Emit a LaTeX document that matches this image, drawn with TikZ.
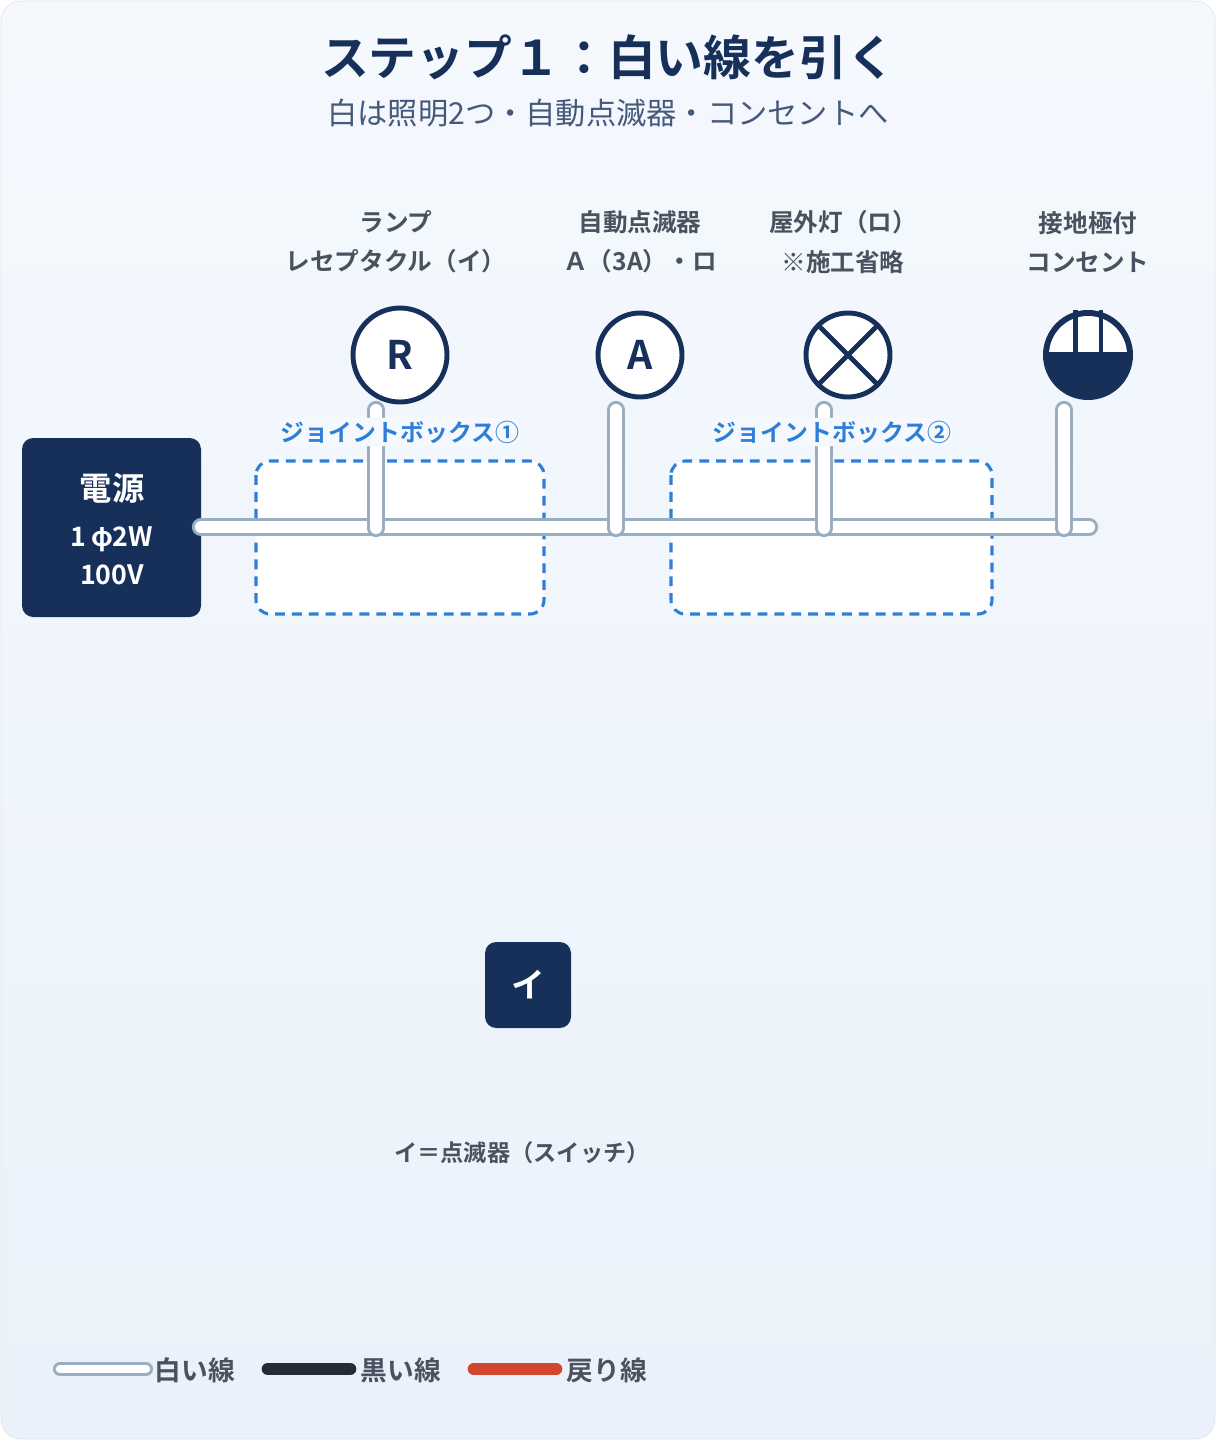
\documentclass[tikz,border=0pt]{standalone}
\usepackage{fontspec}
\setmainfont{Noto Sans CJK JP}
\newfontfamily\jpbold{Noto Sans CJK JP Bold}
\usetikzlibrary{positioning}
\definecolor{navy}{HTML}{16305A}
\definecolor{wiregray}{HTML}{9AAEC2}
\definecolor{jbblue}{HTML}{2F7FD6}
\definecolor{txtgray}{HTML}{4A5260}
\definecolor{bgtop}{HTML}{F5F9FE}
\definecolor{bgbot}{HTML}{EAF1FA}
\definecolor{blackwire}{HTML}{262B36}
\definecolor{redwire}{HTML}{D2452F}
\begin{document}
\begin{tikzpicture}[x=0.025cm,y=-0.025cm,
  whitewire/.style={draw=wiregray, line width=2.2pt, double=white, double distance=8.6pt, line cap=round},
  jbox/.style={draw=jbblue, line width=2.2pt, dash pattern=on 7pt off 5pt, rounded corners=10pt, fill=white},
  jblabel/.style={text=jbblue, font=\jpbold\fontsize{17}{18}\selectfont, fill=bgtop, inner sep=2pt, rounded corners=6pt},
  devlabel/.style={text=txtgray, font=\jpbold\fontsize{17.5}{28}\selectfont, align=center},
  symbol/.style={circle, draw=navy, line width=3.5pt, fill=white, inner sep=0pt},
  darkbox/.style={fill=navy, rounded corners=8pt, text=white}]
  % background
  \useasboundingbox (0,0) rectangle (1216,1440);
  \shade[top color=bgtop, bottom color=bgbot, draw=black!12, rounded corners=14pt] (1,1) rectangle (1215,1439);
  % title
  \node[text=navy, font=\jpbold\fontsize{34}{40}\selectfont] (title) at (608,57) {ステップ１：白い線を引く};
  \node[text=navy!80, font=\fontsize{21.5}{24}\selectfont] (subtitle) at (608,113) {白は照明2つ・自動点滅器・コンセントへ};
  % device labels
  \node[devlabel] (labR) at (396,242) {ランプ\\レセプタクル（イ）};
  \node[devlabel] (labA) at (640,242) {自動点滅器\\Ａ（3A）・ロ};
  \node[devlabel] (labX) at (843,242) {屋外灯（ロ）\\※施工省略};
  \node[devlabel] (labC) at (1088,242) {接地極付\\コンセント};
  % joint boxes
  \draw[jbox] (256,461) rectangle (544,614);
  \draw[jbox] (671,461) rectangle (992,614);
  % power source
  \node[darkbox, minimum width=179*0.025cm, minimum height=179*0.025cm] (src) at (111.5,527.5) {};
  \node[text=white, font=\jpbold\fontsize{23}{26}\selectfont] (srcname) at (112,488) {電源};
  \node[text=white, font=\jpbold\fontsize{19}{27}\selectfont, align=center] (srcspec) at (112,556) {1\,\textit{φ}2W\\100V};
  % wiring
  \coordinate (w0) at (201,527);
  \coordinate (w1) at (1089,527);
  \draw[whitewire] (w0) -- (w1);
  \foreach \x in {376,616,824,1064}{
    \coordinate (top\x) at (\x,410);
    \coordinate (bot\x) at (\x,528);
    \draw[whitewire] (top\x) -- (bot\x);
  }
  % symbols
  \node[symbol, minimum size=94*0.025cm, font=\jpbold\fontsize{28}{30}\selectfont, text=navy] (symR) at (400,355) {R};
  \node[symbol, minimum size=84*0.025cm, font=\jpbold\fontsize{28}{30}\selectfont, text=navy] (symA) at (640,355) {A};
  \node[symbol, minimum size=84*0.025cm] (symX) at (848,355) {};
  \draw[navy, line width=3.5pt, shorten <=1.5pt, shorten >=1.5pt] (symX.45) -- (symX.225);
  \draw[navy, line width=3.5pt, shorten <=1.5pt, shorten >=1.5pt] (symX.135) -- (symX.315);
  \node[circle, fill=navy, minimum size=90*0.025cm, inner sep=0pt] (symC) at (1088,355) {};
  \begin{scope}
    \clip (1088,355) circle (39);
    \fill[white] (1040,300) rectangle (1136,352);
  \end{scope}
  \fill[navy] (1073,310) rectangle (1078,353);
  \fill[navy] (1099,310) rectangle (1103,353);
  % joint box labels
  \node[jblabel] (jb1) at (400,432) {ジョイントボックス①};
  \node[jblabel] (jb2) at (832,432) {ジョイントボックス②};
  % switch
  \node[darkbox, minimum width=86*0.025cm, minimum height=86*0.025cm, font=\jpbold\fontsize{24}{26}\selectfont] (sw) at (528,985) {イ};
  \node[devlabel, font=\jpbold\fontsize{16.5}{18}\selectfont] (swnote) at (522,1153) {イ＝点滅器（スイッチ）};
  % legend
  \draw[whitewire, line width=2pt, double distance=6pt] (60,1369) -- (146,1369);
  \node[devlabel, anchor=west, font=\jpbold\fontsize{19}{20}\selectfont] (lgW) at (150,1370) {白い線};
  \draw[blackwire, line width=9pt, line cap=round] (268,1369) -- (350,1369);
  \node[devlabel, anchor=west, font=\jpbold\fontsize{19}{20}\selectfont] (lgB) at (356,1370) {黒い線};
  \draw[redwire, line width=9pt, line cap=round] (474,1369) -- (556,1369);
  \node[devlabel, anchor=west, font=\jpbold\fontsize{19}{20}\selectfont] (lgR) at (562,1370) {戻り線};
\end{tikzpicture}
\end{document}
